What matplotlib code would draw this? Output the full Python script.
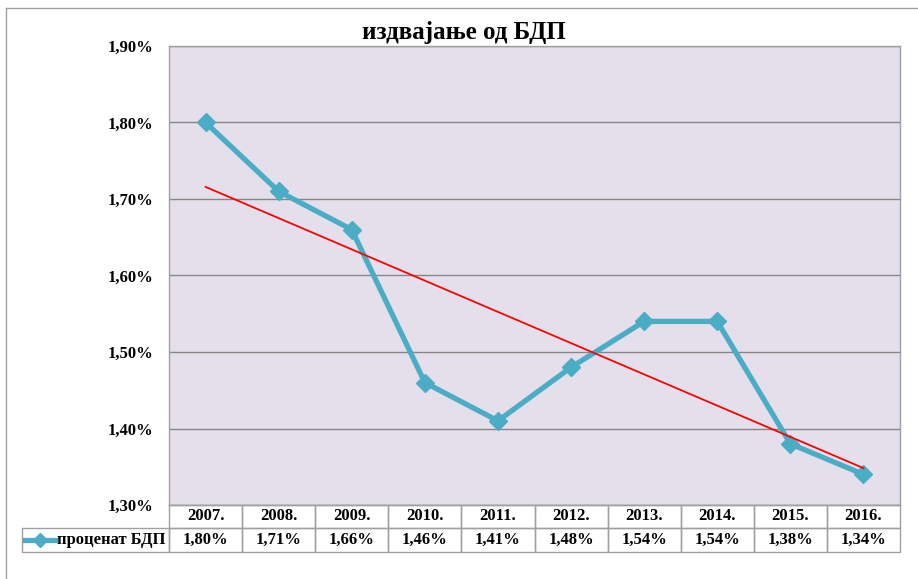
import numpy as np
import matplotlib
matplotlib.use('Agg')
import matplotlib.pyplot as plt
import matplotlib.transforms as mtransforms
from matplotlib.lines import Line2D
from matplotlib.patches import Rectangle

### --- data --- ###
years = ['2007.', '2008.', '2009.', '2010.', '2011.', '2012.', '2013.', '2014.', '2015.', '2016.']
values = [1.80, 1.71, 1.66, 1.46, 1.41, 1.48, 1.54, 1.54, 1.38, 1.34]
series_name = 'проценат БДП'
title = 'издвајање од БДП'
yticks = [1.30, 1.40, 1.50, 1.60, 1.70, 1.80, 1.90]

plt.rcParams['font.family'] = ['Liberation Serif', 'DejaVu Serif']
plt.rcParams['font.weight'] = 'bold'

W, H = 918, 579
fig = plt.figure(figsize=(W / 100, H / 100), dpi=100)

def px(x0, y0, x1, y1):
    # pixel box (top-left origin) -> figure fraction rect
    return [x0 / W, 1 - y1 / H, (x1 - x0) / W, (y1 - y0) / H]

ax = fig.add_axes(px(169, 46, 900, 505))
ax.set_facecolor('#E5DFEC')

xs = np.arange(len(values))
teal = '#4BACC6'
ax.plot(xs, values, color=teal, lw=3.8, marker='D', ms=9, zorder=3)

# linear trend line
k, b = np.polyfit(xs, values, 1)
ax.plot(xs, k * xs + b, color='red', lw=1.3, zorder=4)

ax.set_xlim(-0.5, len(values) - 0.5)
ax.set_ylim(1.30, 1.90)
ax.set_yticks(yticks)
ax.set_yticklabels([f'{v:.2f}%'.replace('.', ',') for v in yticks], fontsize=12, fontweight='bold')
ax.set_xticks([])
ax.tick_params(axis='y', length=0, pad=11)
ax.grid(axis='y', color='#868686', lw=1)
for s in ax.spines.values():
    s.set_color('#A0A0A0')
    s.set_linewidth(1)

fig.text(464 / W, 1 - 32 / H, title, ha='center', va='center', fontsize=18, fontweight='bold')

### --- data table under the plot --- ###
ph = 459.0
r1 = -23 / ph
r2 = -47 / ph
tr = mtransforms.blended_transform_factory(ax.transData, ax.transAxes)
grey = '#A0A0A0'
for i, (yr, v) in enumerate(zip(years, values)):
    for y0, y1 in [(r1, 0), (r2, r1)]:
        ax.add_patch(Rectangle((i - 0.5, y0), 1, y1 - y0, transform=tr, fill=False,
                               ec=grey, lw=1, clip_on=False))
    ax.text(i, r1 / 2, yr, transform=tr, ha='center', va='center', fontsize=12, fontweight='bold')
    ax.text(i, (r1 + r2) / 2, f'{v:.2f}%'.replace('.', ','), transform=tr,
            ha='center', va='center', fontsize=12, fontweight='bold')

lx0 = (22 - 169) / 731.0
ax.add_patch(Rectangle((lx0, r2), -lx0, r1 - r2, transform=ax.transAxes, fill=False,
                       ec=grey, lw=1, clip_on=False))
ym = (r1 + r2) / 2
ax.add_line(Line2D([lx0 + 0.004, lx0 + 0.045], [ym, ym], transform=ax.transAxes, color=teal,
                   lw=3.8, clip_on=False))
ax.add_line(Line2D([lx0 + 0.0245], [ym], transform=ax.transAxes, color=teal, marker='D', ms=7,
                   clip_on=False))
ax.text(lx0 + 0.048, ym, series_name, transform=ax.transAxes, ha='left', va='center',
        fontsize=12, fontweight='bold')

# outer frame of the chart object
fig.add_artist(Line2D([6 / W, 6 / W], [0, 1 - 8 / H], color=grey, lw=1))
fig.add_artist(Line2D([6 / W, 1], [1 - 8 / H, 1 - 8 / H], color=grey, lw=1))

fig.savefig('out.png', dpi=100)
